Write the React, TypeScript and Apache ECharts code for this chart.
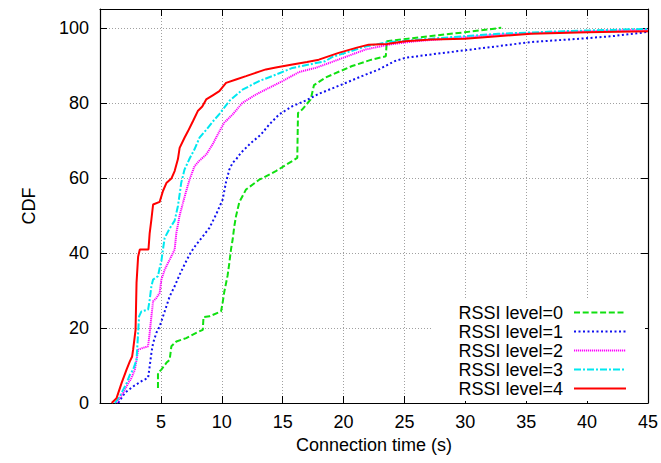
import React, { useEffect, useRef } from "react";
import * as echarts from "echarts";

const seriesNames = ["RSSI level=0", "RSSI level=1", "RSSI level=2", "RSSI level=3", "RSSI level=4"];
const seriesColors = ["#10e010", "#1010f0", "#ff00ff", "#00e8f0", "#ff0000"];

const level0: number[][] = [
  [4.76, 4], [4.76, 8], [5.04, 8.9], [5.45, 10.7], [5.72, 11.5], [5.86, 15.1], [6.27, 16.4],
  [7.08, 17.3], [7.9, 18.7], [8.44, 19.5], [8.5, 22.9], [8.99, 23.1], [9.94, 24.4], [10.07, 26.7],
  [10.2, 29.5], [10.48, 34], [10.62, 37.3], [10.76, 41], [10.89, 43.5], [11.03, 47.1], [11.17, 49.8],
  [11.44, 53.5], [11.99, 56.9], [13.07, 59.5], [14.44, 61.8], [16.2, 65.3], [16.26, 77.3], [16.6, 78.2],
  [17.3, 80.9], [17.57, 84.7], [18.5, 86.7], [19.06, 87.5], [20.7, 89.8], [22.3, 91.5], [23.47, 92.4],
  [23.55, 96.4], [25.3, 97.1], [27.2, 97.8], [29.96, 98.8], [32.95, 100],
];

const level1: number[][] = [
  [1.5, 0], [2.04, 2.7], [2.72, 4.4], [3.4, 5.8], [3.95, 6.7], [4.08, 9.8], [4.22, 13.3], [4.36, 16],
  [4.63, 18.7], [4.9, 20.4], [5.31, 24.4], [5.72, 28.4], [6.13, 31.1], [6.54, 34.2], [6.94, 36.9],
  [7.35, 39.5], [7.63, 41], [7.9, 42.2], [8.44, 44.4], [8.99, 46.7], [9.53, 50.2], [10.07, 54.2],
  [10.35, 58.9], [10.62, 62.2], [10.89, 64], [11.17, 64.9], [11.58, 66.7], [12.39, 69.3], [13.21, 71.5],
  [13.89, 74.2], [14.71, 76.9], [15.8, 79.1], [16.89, 80.6], [17.97, 82.4], [19.88, 84.9], [21.5, 87.1],
  [22.9, 88.9], [24.2, 91.1], [25.1, 92], [27.2, 92.9], [29.96, 94], [32.7, 95.1], [35.4, 96.2],
  [39.5, 97.1], [42.2, 97.8], [45, 98.9],
];

const level2: number[][] = [
  [1.36, 0], [1.9, 2.7], [2.32, 5.3], [2.59, 6.7], [2.86, 8.9], [3.0, 11.5], [3.13, 14.2], [3.54, 14.7],
  [3.95, 15.1], [4.08, 18.7], [4.22, 23.1], [4.36, 27.1], [4.63, 28], [4.9, 29.3], [5.04, 32.9],
  [5.31, 35.5], [5.58, 37.3], [5.86, 39.1], [6.13, 40.9], [6.27, 45.3], [6.54, 50], [6.81, 53.3],
  [7.08, 56.5], [7.35, 59.5], [7.76, 63.1], [8.17, 64.6], [8.72, 66.2], [9.26, 69], [9.66, 71.5],
  [10.2, 74.7], [10.89, 76.9], [11.7, 80], [12.8, 82.2], [13.89, 84], [15, 85.8], [16.34, 88.2],
  [17.7, 89.3], [19.06, 90.9], [21.8, 94.2], [23.7, 95.5], [25.9, 96.4], [28.6, 97.1], [32.7, 98.2],
  [38.1, 98.9], [45, 99.5],
];

const level3: number[][] = [
  [1.23, 0], [1.63, 1.8], [2.18, 5.3], [2.45, 7.5], [2.72, 8.9], [3.0, 11.5], [3.13, 18.7], [3.21, 23.1],
  [3.4, 24.4], [3.95, 24.9], [4.08, 27.5], [4.22, 31.1], [4.36, 32.9], [4.76, 33.8], [4.9, 36],
  [5.04, 37.8], [5.17, 40.9], [5.31, 44], [5.72, 46.5], [6.13, 48.6], [6.4, 52.5], [6.6, 57],
  [6.67, 58.7], [6.94, 62.2], [7.35, 65.1], [7.76, 67.6], [8.17, 70.7], [8.72, 72.8], [9.26, 75],
  [9.8, 77], [10.62, 80.5], [11.7, 83.5], [13.07, 85.8], [14.44, 87.5], [15.8, 89.3], [17.16, 90.2],
  [18.5, 91.1], [19.06, 92.2], [21.8, 95], [23.7, 96.2], [27.2, 97.1], [32.7, 98.4], [38.1, 99.1],
  [45, 99.7],
];

const level4: number[][] = [
  [0.96, 0], [1.36, 1.3], [1.77, 5.3], [2.18, 8.9], [2.45, 11.1], [2.64, 12.4], [2.72, 14.2],
  [2.92, 19.5], [3.0, 32], [3.13, 39], [3.27, 40.9], [3.98, 40.9], [4.08, 45.3], [4.22, 48.9],
  [4.36, 52.9], [4.9, 53.6], [5.17, 56.5], [5.45, 58.6], [5.86, 59.8], [6.13, 61.8], [6.4, 65],
  [6.54, 68], [6.94, 70.7], [7.22, 72.4], [7.63, 75.1], [8.03, 77.8], [8.4, 79], [8.72, 80.9],
  [9.26, 82], [9.8, 83.1], [10.35, 85.3], [11.17, 86.2], [11.99, 87.1], [13.07, 88.3], [13.62, 88.9],
  [14.44, 89.4], [15.8, 90.2], [17.0, 90.9], [17.97, 91.5], [19.6, 93.3], [21.1, 94.7], [22.06, 95.5],
  [23.55, 95.7], [25.06, 96.4], [27.2, 96.9], [29.96, 97.1], [32.1, 97.6], [35.4, 98.4], [40, 98.8],
  [45, 99.1],
];

const allLevels = [level0, level1, level2, level3, level4];
const lineDashes: any[] = [[6, 2.7], [2, 2.5], [1.2, 0.8], [7, 2, 2, 2], "solid"];

const FONT = "'Liberation Sans', Arial, sans-serif";

export default function App() {
  const ref = useRef<HTMLDivElement>(null);
  useEffect(() => {
    if (!ref.current) return;
    const chart = echarts.init(ref.current, undefined, { renderer: "svg" });
    const gridLine = { show: true, lineStyle: { color: "#a0a0a0", type: [1, 2], width: 1 } };
    const axisLine = { show: true, onZero: false, lineStyle: { color: "#000", width: 1.2 } };
    const tick = { show: true, inside: true, length: 7, lineStyle: { color: "#000", width: 1 } };
    chart.setOption({
      animation: false,
      backgroundColor: "#fff",
      grid: { left: 100, right: 10, top: 9, bottom: 60, containLabel: false },
      xAxis: [
        {
          type: "value", min: 0, max: 45, interval: 5, position: "bottom",
          axisLine, axisTick: tick, splitLine: gridLine,
          axisLabel: {
            fontSize: 18, color: "#000", fontFamily: FONT, margin: 10,
            formatter: (v: number) => (v === 0 ? "" : String(v)),
          },
          name: "Connection time (s)", nameLocation: "middle", nameGap: 28,
          nameTextStyle: { fontSize: 18, color: "#000", fontFamily: FONT, verticalAlign: "top" },
        },
        {
          type: "value", min: 0, max: 45, interval: 5, position: "top",
          axisLine, axisTick: tick, splitLine: { show: false }, axisLabel: { show: false },
        },
      ],
      yAxis: [
        {
          type: "value", min: 0, max: 105, interval: 20, position: "left",
          axisLine, axisTick: tick, splitLine: gridLine,
          axisLabel: {
            fontSize: 18, color: "#000", fontFamily: FONT, margin: 11,
            formatter: (v: number) => (v > 100 ? "" : String(v)),
          },
          name: "CDF", nameLocation: "middle", nameGap: 62,
          nameTextStyle: { fontSize: 18, color: "#000", fontFamily: FONT },
        },
        {
          type: "value", min: 0, max: 105, interval: 20, position: "right",
          axisLine, axisTick: tick, splitLine: { show: false }, axisLabel: { show: false },
        },
      ],
      legend: {
        orient: "vertical", right: 16, top: 300, align: "right",
        itemWidth: 52, itemHeight: 14, itemGap: 0,
        backgroundColor: "#fff", padding: [3, 18, 3, 27],
        itemStyle: { opacity: 0, color: "transparent", borderWidth: 0 },
        textStyle: { fontSize: 18, color: "#000", fontFamily: FONT, lineHeight: 19, padding: [0, 6, 0, 0] },
        data: seriesNames,
      },
      series: allLevels.map((d, i) => ({
        name: seriesNames[i],
        type: "line",
        data: d,
        xAxisIndex: 0,
        yAxisIndex: 0,
        symbol: "none",
        showSymbol: false,
        color: seriesColors[i],
        lineStyle: { color: seriesColors[i], width: 2, type: lineDashes[i] },
        z: 2 + i * 0.01,
      })),
    });
    return () => chart.dispose();
  }, []);
  return (
    <div
      ref={ref}
      style={{ position: "fixed", left: 0, top: 0, width: 661, height: 463, background: "#fff" }}
    />
  );
}
